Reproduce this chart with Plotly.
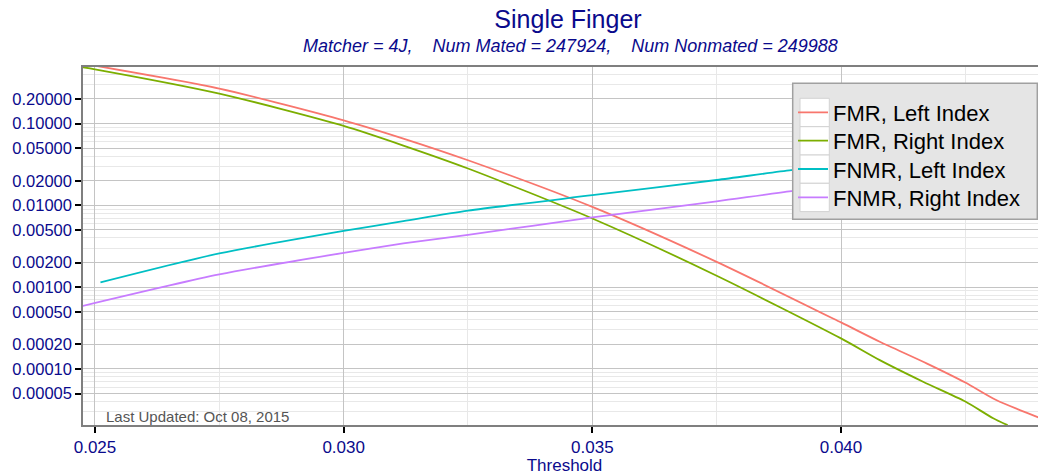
import plotly.graph_objects as go

NAVY = "#0a0a8c"
FONT = "Liberation Sans, Arial, sans-serif"

# ---------------- data ----------------
thr_fmr_left = [0.0250, 0.0275, 0.0300, 0.0312, 0.0325, 0.0350, 0.0375, 0.0400,
                0.04078, 0.04172, 0.0425, 0.04312, 0.04412]
fmr_left = [0.51, 0.2677, 0.1097, 0.0656, 0.0356, 0.00957, 0.002037, 0.000370,
            0.0002147, 0.000117, 0.0000681, 0.0000416, 0.0000235]

thr_fmr_right = [0.0247, 0.0250, 0.0275, 0.0300, 0.0312, 0.0325, 0.0350, 0.0375,
                 0.0400, 0.04078, 0.04165, 0.0425, 0.04306, 0.04335]
fmr_right = [0.495, 0.461, 0.2325, 0.0935, 0.0538, 0.02819, 0.00691, 0.001378,
             0.000236, 0.000128, 0.0000697, 0.0000399, 0.0000249, 0.0000205]

thr_fnmr_left = [0.02511, 0.0275, 0.0300, 0.0312, 0.0325, 0.0350, 0.0375, 0.0390,
                 0.0400, 0.0425, 0.0440, 0.04412]
fnmr_left = [0.001141, 0.002581, 0.004873, 0.00640, 0.0086, 0.01330, 0.0204, 0.0269,
             0.0310, 0.0420, 0.0528, 0.0540]

thr_fnmr_right = [0.02474, 0.0275, 0.0300, 0.0312, 0.0325, 0.0350, 0.0375, 0.0390,
                  0.0400, 0.0425, 0.0432]
fnmr_right = [0.000586, 0.001429, 0.002625, 0.00342, 0.00436, 0.00711, 0.01117, 0.01489,
              0.0172, 0.0235, 0.0255]

series_names = ["FMR, Left Index", "FMR, Right Index", "FNMR, Left Index", "FNMR, Right Index"]
series_colors = ["#F8766D", "#7CAE00", "#00BFC4", "#C77CFF"]

x_ticks = [0.025, 0.030, 0.035, 0.040]
x_tick_labels = ["0.025", "0.030", "0.035", "0.040"]
x_minor = [0.0275, 0.0325, 0.0375, 0.0425]

y_ticks = [0.2, 0.1, 0.05, 0.02, 0.01, 0.005, 0.002, 0.001, 0.0005, 0.0002, 0.0001, 0.00005]
y_tick_labels = ["0.20000", "0.10000", "0.05000", "0.02000", "0.01000", "0.00500",
                 "0.00200", "0.00100", "0.00050", "0.00020", "0.00010", "0.00005"]
y_minor = [k * 10.0 ** e for e in range(-5, 0) for k in (3, 4, 6, 7, 8, 9)]

title_text = "Single Finger"
subtitle_text = "Matcher = 4J,\u00a0\u00a0\u00a0 Num Mated = 247924,\u00a0\u00a0\u00a0 Num Nonmated = 249988"
note_text = "Last Updated: Oct 08, 2015"

# ---------------- figure ----------------
fig = go.Figure()
xs = [thr_fmr_left, thr_fmr_right, thr_fnmr_left, thr_fnmr_right]
ys = [fmr_left, fmr_right, fnmr_left, fnmr_right]
legend_ids = ["legend", "legend2", "legend3", "legend4"]
for x, y, name, col, lg in zip(xs, ys, series_names, series_colors, legend_ids):
    fig.add_trace(go.Scatter(x=x, y=y, mode="lines", name=name, legend=lg,
                             line=dict(color=col, width=1.8, shape="spline", smoothing=0.7)))

# page offset (default body margin of the html page)
OFF = 8
PAGE_W = 1046
# plot area in page px: left 83, right 1046, top 67, bottom 425
L, R, T, B = 83, 1046, 67, 425
BOTTOM_MARGIN = 50
W, H = PAGE_W - OFF, B - OFF + BOTTOM_MARGIN


def px(xp):
    return (xp - L) / (R - L)


def py(yp):
    return (B - yp) / (B - T)


fig.update_layout(
    width=W, height=H,
    margin=dict(l=L - OFF, r=PAGE_W - R, t=T - OFF, b=BOTTOM_MARGIN, pad=0),
    paper_bgcolor="white", plot_bgcolor="white",
    font=dict(family=FONT, color=NAVY),
    title=dict(text=title_text, x=(568 - OFF) / W, xanchor="center",
               y=1 - (19.5 - OFF) / H, yanchor="middle",
               font=dict(size=25, color=NAVY, family=FONT)),
    showlegend=True,
)

leg_common = dict(xanchor="left", yanchor="middle", bgcolor="rgba(0,0,0,0)", borderwidth=0,
                  font=dict(size=22, color="black", family=FONT))
row_centers = [112.5, 140.8, 169.2, 197.5]
for lg, rc in zip(legend_ids, row_centers):
    fig.update_layout({lg: dict(x=px(793), y=py(rc), **leg_common)})

fig.update_xaxes(
    range=[0.024759, 0.044122], tickvals=x_ticks, ticktext=x_tick_labels,
    ticks="outside", ticklen=6, tickwidth=1.5, tickcolor="black",
    showline=True, linecolor="#7f7f7f", linewidth=1.5, mirror=True,
    showgrid=True, gridcolor="#c4c4c4", gridwidth=1.4, zeroline=False,
    minor=dict(tickvals=x_minor, showgrid=True, gridcolor="#e8e8e8", gridwidth=1, ticks=""),
    tickfont=dict(size=17, color=NAVY, family=FONT),
    title=dict(text="Threshold", font=dict(size=17, color=NAVY, family=FONT)),
    automargin=False,
)
fig.update_yaxes(
    type="log", range=[-4.686, -0.3085], tickvals=y_ticks, ticktext=y_tick_labels,
    ticks="outside", ticklen=6, tickwidth=1.5, tickcolor="black",
    showline=True, linecolor="#7f7f7f", linewidth=1.5, mirror=True,
    showgrid=True, gridcolor="#c4c4c4", gridwidth=1.4, zeroline=False,
    minor=dict(tickvals=y_minor, showgrid=True, gridcolor="#e8e8e8", gridwidth=1, ticks=""),
    tickfont=dict(size=16.5, color=NAVY, family=FONT),
    automargin=False,
)

# legend panel background and key boxes (ggplot-style)
shapes = [dict(type="rect", xref="paper", yref="paper", layer="above",
               x0=px(792.7), x1=px(1037.3), y0=py(219.3), y1=py(83.3),
               fillcolor="#e5e5e5", line=dict(color="#a0a0a0", width=1.5))]
for top in [98.3, 126.7, 155.0, 183.3]:
    shapes.append(dict(type="rect", xref="paper", yref="paper", layer="above",
                       x0=px(800), x1=px(829.3), y0=py(top + 28.3), y1=py(top),
                       fillcolor="white", line=dict(color="#d2d2d2", width=1)))
fig.update_layout(shapes=shapes)

fig.add_annotation(text="<i>" + subtitle_text + "</i>", xref="paper", yref="paper",
                   x=px(570), y=py(46), xanchor="center", yanchor="middle", showarrow=False,
                   font=dict(size=18, color=NAVY, family=FONT))
fig.add_annotation(text=note_text, xref="paper", yref="paper",
                   x=px(104), y=py(416), xanchor="left", yanchor="middle", showarrow=False,
                   font=dict(size=15, color="#555555", family=FONT))

fig.write_html("out.html")
